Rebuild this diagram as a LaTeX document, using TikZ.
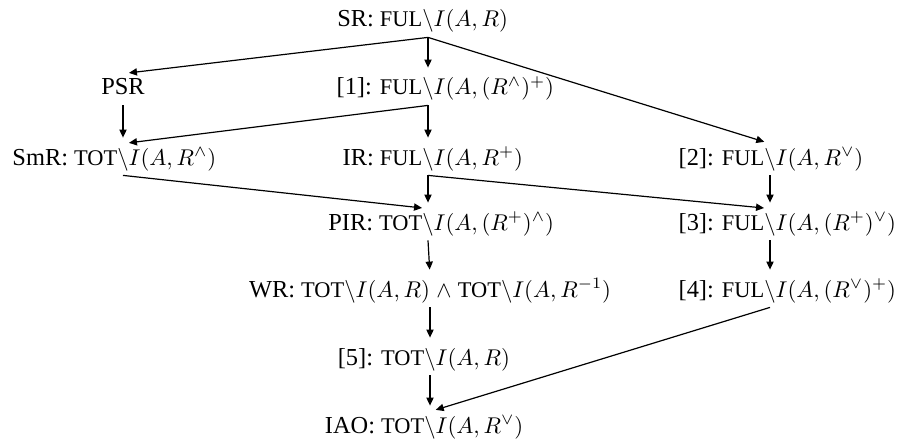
\documentclass[tikz,border=0pt]{standalone}
\usepackage{fix-cm}
\usepackage{fontspec}
\setmainfont{Liberation Serif}
\usetikzlibrary{arrows.meta}
\newcommand{\smc}[1]{{\fontsize{11.2}{12}\selectfont #1}}
\newcommand{\tx}[1]{{\fontsize{12.2}{14}\selectfont #1}}
\begin{document}
\begin{tikzpicture}[x=0.5pt,y=-0.5pt,
  lab/.style={anchor=base,inner xsep=0pt,inner ysep=2pt,text height=8.5pt,text depth=3pt,font=\fontsize{11.4}{13}\selectfont},
  arr/.style={-{Triangle[length=4pt,width=3.6pt]},line width=0.6pt,shorten >=3pt}]
\useasboundingbox (0,0) rectangle (898,444);
\node[lab] (sr) at (428,27) {\llap{\tx{SR: \smc{FUL}}}$\backslash$\rlap{$I(A,R)$}};
\node[lab] (psr) at (123,95) {\tx{PSR}};
\node[lab] (n1) at (428,95) {\llap{\tx{[1]: \smc{FUL}}}$\backslash$\rlap{$I(A,(R^\wedge)^+)$}};
\node[lab] (smr) at (123,165) {\llap{\tx{SmR: \smc{TOT}}}$\backslash$\rlap{$I(A,R^\wedge)$}};
\node[lab] (ir) at (428,165) {\llap{\tx{IR: \smc{FUL}}}$\backslash$\rlap{$I(A,R^+)$}};
\node[lab] (n2) at (770,165) {\llap{\tx{[2]: \smc{FUL}}}$\backslash$\rlap{$I(A,R^\vee)$}};
\node[lab] (pir) at (428,230) {\llap{\tx{PIR: \smc{TOT}}}$\backslash$\rlap{$I(A,(R^+)^\wedge)$}};
\node[lab] (n3) at (770,230) {\llap{\tx{[3]: \smc{FUL}}}$\backslash$\rlap{$I(A,(R^+)^\vee)$}};
\node[lab] (wr) at (430,297) {\llap{\tx{WR: \smc{TOT}}$\backslash I(A,R)$}\rlap{$\;\wedge\;$\tx{\smc{TOT}}$\backslash I(A,R^{-1})$}};
\node[lab] (n4) at (770,297) {\llap{\tx{[4]: \smc{FUL}}}$\backslash$\rlap{$I(A,(R^\vee)^+)$}};
\node[lab] (n5) at (430,365) {\llap{\tx{[5]: \smc{TOT}}}$\backslash$\rlap{$I(A,R)$}};
\node[lab] (iao) at (430,433) {\llap{\tx{IAO: \smc{TOT}}}$\backslash$\rlap{$I(A,R^\vee)$}};
\draw[arr] (sr.south) -- (psr.north);
\draw[arr] (sr.south) -- (n1.north);
\draw[arr] (sr.south) -- (n2.north);
\draw[arr] (psr.south) -- (smr.north);
\draw[arr] (n1.south) -- (smr.north);
\draw[arr] (n1.south) -- (ir.north);
\draw[arr] (smr.south) -- (pir.north);
\draw[arr] (ir.south) -- (pir.north);
\draw[arr] (ir.south) -- (n3.north);
\draw[arr] (n2.south) -- (n3.north);
\draw[arr] (pir.south) -- (wr.north);
\draw[arr] (n3.south) -- (n4.north);
\draw[arr] (wr.south) -- (n5.north);
\draw[arr] (n4.south) -- (iao.north);
\draw[arr] (n5.south) -- (iao.north);
\end{tikzpicture}
\end{document}
